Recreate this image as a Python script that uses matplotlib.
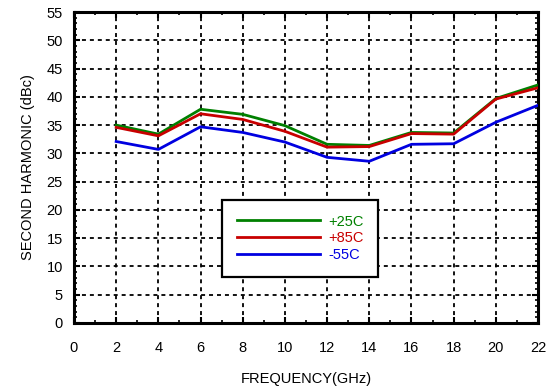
"""
Second harmonic vs frequency at three temperatures.
"""

import matplotlib
matplotlib.use("Agg")
import matplotlib.pyplot as plt
from matplotlib.ticker import MultipleLocator

plt.rcParams['font.family'] = ['Liberation Sans', 'DejaVu Sans']

# Frequency points (GHz)
freq_ghz = [2, 4, 6, 8, 10, 12, 14, 16, 18, 20, 22]

# Second harmonic (dBc) per temperature
h2_p25 = [35.0, 33.4, 37.8, 36.9, 34.9, 31.6, 31.4, 33.7, 33.6, 39.7, 42.1]
h2_p85 = [34.6, 33.1, 37.0, 36.0, 33.9, 31.1, 31.2, 33.5, 33.4, 39.6, 41.6]
h2_m55 = [32.1, 30.7, 34.7, 33.7, 32.0, 29.3, 28.6, 31.6, 31.7, 35.5, 38.5]

series = [
    ('+25C', h2_p25, '#008000'),
    ('+85C', h2_p85, '#c80000'),
    ('-55C', h2_m55, '#0000e0'),
]

fig = plt.figure(figsize=(5.51, 3.89), dpi=100)
ax = fig.add_axes([74 / 551, 1 - 323 / 389, 464 / 551, 311 / 389])

for label, vals, color in series:
    ax.plot(freq_ghz, vals, color=color, linewidth=2.0, label=label, zorder=3)

ax.set_xlim(0, 22)
ax.set_ylim(0, 55)
ax.xaxis.set_major_locator(MultipleLocator(2))
ax.xaxis.set_minor_locator(MultipleLocator(1))
ax.yaxis.set_major_locator(MultipleLocator(5))
ax.yaxis.set_minor_locator(MultipleLocator(1))

ax.tick_params(which='both', direction='in', top=True, right=True,
               labelsize=10.5, color='black')
ax.tick_params(which='major', length=4, width=1.5)
ax.tick_params(which='minor', length=2.5, width=1.2)
ax.tick_params(axis='x', which='major', pad=13)
ax.tick_params(axis='y', which='major', pad=8)

ax.grid(True, which='major', color='black', linestyle=(0, (2.2, 2.2)),
        linewidth=1.3)
for spine in ax.spines.values():
    spine.set_linewidth(2.2)

ax.set_xlabel('FREQUENCY(GHz)', fontsize=10.5, labelpad=12)
ax.set_ylabel('SECOND HARMONIC (dBc)', fontsize=10.5, labelpad=8)

leg = ax.legend(loc='upper left', bbox_to_anchor=(0.319, 0.3955),
                borderaxespad=0, fontsize=10.5, handlelength=5.75,
                handletextpad=0.55, labelspacing=0.2, borderpad=1.0,
                fancybox=False, framealpha=1, edgecolor='black')
leg.get_frame().set_linewidth(1.6)
leg.set_zorder(5)
for text, (_, _, color) in zip(leg.get_texts(), series):
    text.set_color(color)

fig.savefig('out.png', dpi=100)
